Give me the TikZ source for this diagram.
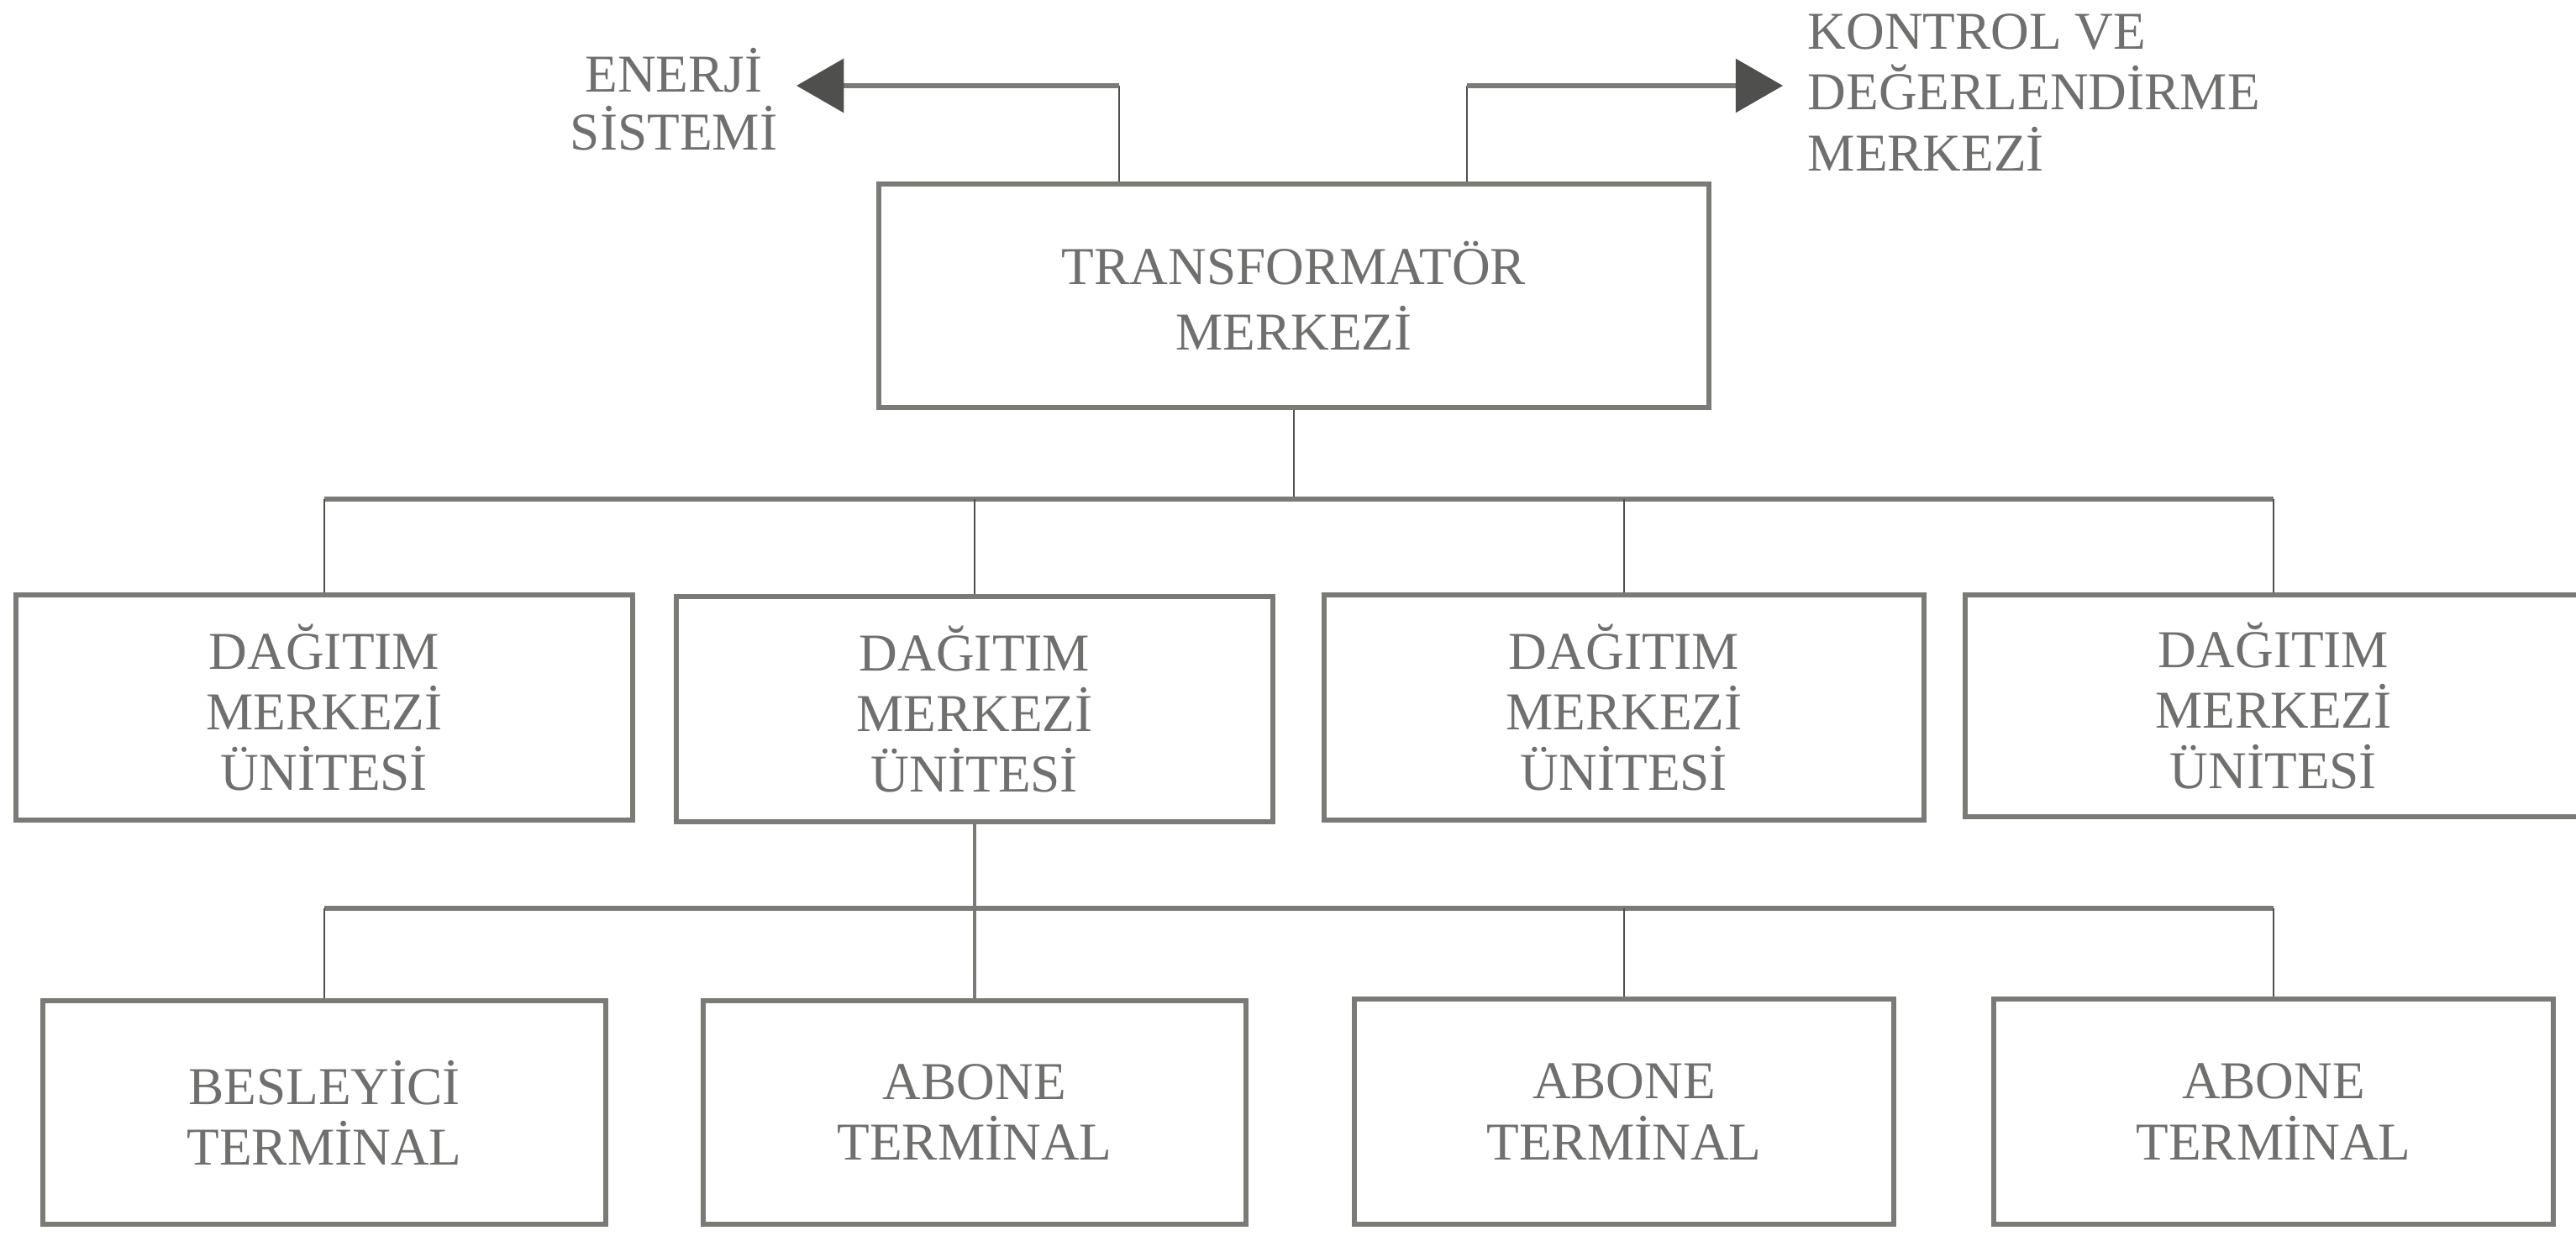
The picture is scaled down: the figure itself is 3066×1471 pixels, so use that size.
\documentclass[tikz,border=0pt]{standalone}
\usepackage{fontspec}
\setmainfont{Liberation Serif}
\usetikzlibrary{arrows.meta}
\definecolor{lg}{HTML}{7A7B77}
\definecolor{dg}{HTML}{4F504D}
\definecolor{tg}{HTML}{6F706D}
\begin{document}
\begin{tikzpicture}[x=0.01cm,y=-0.01cm,
  box/.style={draw=lg,line width=1.7pt,rectangle,inner sep=0pt,align=center,text=tg,
              font=\fontsize{18}{20.5}\selectfont},
  bus/.style={draw=lg,line width=1.6pt},
  drop/.style={draw=dg,line width=0.7pt},
  stem/.style={draw=lg,line width=1.1pt},
  lbl/.style={text=tg,inner sep=0pt,font=\fontsize{18}{20}\selectfont},
  head/.style={-{Triangle[length=16pt,width=18pt,color=dg]}}]
\useasboundingbox (0,0) rectangle (3066,1471);
\fill[white] (0,0) rectangle (3066,1471);
\clip (0,0) rectangle (3066,1471);

% top box
\node[box,minimum width=9.88cm,minimum height=2.66cm,font=\fontsize{18}{22}\selectfont]
  (top) at (1540,352) {TRANSFORMATÖR\\MERKEZİ};

% side labels
\node[lbl,align=center,font=\fontsize{18}{19.5}\selectfont] (enerji) at (802,118) {ENERJİ\\SİSTEMİ};
\node[lbl,align=left,anchor=west,font=\fontsize{18}{20.5}\selectfont] (kontrol) at (2151,110)
  {KONTROL VE\\DEĞERLENDİRME\\MERKEZİ};

\coordinate (lv) at (1332,102);
\coordinate (ltip) at (948,102);
\coordinate (rv) at (1746,102);
\coordinate (rtip) at (2122,102);
\draw[drop] (top.north -| lv) -- (lv);
\draw[bus,head] (lv) -- (ltip);
\draw[drop] (top.north -| rv) -- (rv);
\draw[bus,head] (rv) -- (rtip);

% row 2
\node[box,minimum width=7.33cm,minimum height=2.68cm] (b1) at (386,842) {DAĞITIM\\MERKEZİ\\ÜNİTESİ};
\node[box,minimum width=7.09cm,minimum height=2.68cm] (b2) at (1160,844) {DAĞITIM\\MERKEZİ\\ÜNİTESİ};
\node[box,minimum width=7.14cm,minimum height=2.68cm] (b3) at (1933,842) {DAĞITIM\\MERKEZİ\\ÜNİTESİ};
\node[box,minimum width=7.34cm,minimum height=2.64cm] (b4) at (2706,840) {DAĞITIM\\MERKEZİ\\ÜNİTESİ};

\coordinate (busA) at (1543,594);
\draw[drop] (top.south) -- (top.south |- busA);
\draw[bus] (b1.north |- busA) -- (b4.north |- busA);
\foreach \n in {b1,b2,b3,b4} \draw[drop] (\n.north |- busA) -- (\n.north);

% row 3
\node[box,minimum width=6.69cm,minimum height=2.66cm] (c1) at (386,1324) {BESLEYİCİ\\TERMİNAL};
\node[box,minimum width=6.45cm,minimum height=2.66cm] (c2) at (1160,1324) {ABONE\\TERMİNAL};
\node[box,minimum width=6.42cm,minimum height=2.68cm] (c3) at (1933,1323) {ABONE\\TERMİNAL};
\node[box,minimum width=6.65cm,minimum height=2.68cm] (c4) at (2706,1323) {ABONE\\TERMİNAL};

\coordinate (busB) at (1160,1081);
\draw[bus] (c1.north |- busB) -- (c4.north |- busB);
\draw[stem] (b2.south) -- (c2.north);
\foreach \n in {c1,c3,c4} \draw[drop] (\n.north |- busB) -- (\n.north);
\end{tikzpicture}
\end{document}
